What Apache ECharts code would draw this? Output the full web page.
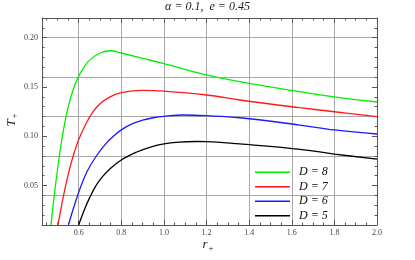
<!DOCTYPE html>
<html>
<head>
<meta charset="utf-8">
<script src="https://cdn.jsdelivr.net/npm/echarts@6/dist/echarts.min.js"></script>
<style>html,body{margin:0;padding:0;background:#fff}#c{width:415px;height:260px}</style>
</head>
<body>
<div id="c"></div>
<script>
// ---- data ----
var seriesNames = ['D = 8', 'D = 7', 'D = 6', 'D = 5'];
var xD8 = [0.470, 0.490, 0.510, 0.530, 0.550, 0.575, 0.600, 0.625, 0.650, 0.700, 0.750, 0.800, 0.900, 1.000, 1.200, 1.356, 1.600, 1.800, 2.000];
var yD8 = [0.010, 0.048, 0.081, 0.108, 0.129, 0.148, 0.161, 0.170, 0.177, 0.1845, 0.1868, 0.1845, 0.1791, 0.1737, 0.1622, 0.1554, 0.1465, 0.1400, 0.1348];
var xD7 = [0.503, 0.520, 0.540, 0.560, 0.580, 0.600, 0.630, 0.660, 0.700, 0.750, 0.800, 0.900, 1.000, 1.200, 1.356, 1.638, 1.800, 2.000];
var yD7 = [0.010, 0.030, 0.051, 0.069, 0.084, 0.0965, 0.111, 0.1225, 0.1330, 0.1403, 0.1442, 0.1466, 0.1459, 0.1419, 0.1368, 0.1290, 0.1249, 0.1199];
var xD6 = [0.552, 0.580, 0.610, 0.640, 0.680, 0.720, 0.760, 0.800, 0.850, 0.900, 0.950, 1.000, 1.090, 1.200, 1.356, 1.638, 1.800, 2.000];
var yD6 = [0.010, 0.030, 0.049, 0.0645, 0.079, 0.0905, 0.0995, 0.1065, 0.1125, 0.1163, 0.1188, 0.1203, 0.1216, 0.1209, 0.1188, 0.1114, 0.1064, 0.1023];
var xD5 = [0.600, 0.625, 0.650, 0.680, 0.710, 0.750, 0.800, 0.870, 0.930, 1.000, 1.070, 1.150, 1.200, 1.356, 1.638, 1.800, 2.000];
var yD5 = [0.010, 0.0245, 0.037, 0.0495, 0.0585, 0.0675, 0.0760, 0.0838, 0.0886, 0.0922, 0.0940, 0.0947, 0.0946, 0.0922, 0.0868, 0.0820, 0.0768];
var xTicks = [0.6, 0.8, 1.0, 1.2, 1.4, 1.6, 1.8, 2.0];
var xMinorTicks = [0.45, 0.5, 0.55, 0.65, 0.7, 0.75, 0.85, 0.9, 0.95, 1.05, 1.1, 1.15, 1.25, 1.3, 1.35, 1.45, 1.5, 1.55, 1.65, 1.7, 1.75, 1.85, 1.9, 1.95];
var yTicks = [0.05, 0.10, 0.15, 0.20];
var yMinorTicks = [0.01, 0.02, 0.03, 0.04, 0.06, 0.07, 0.08, 0.09, 0.11, 0.12, 0.13, 0.14, 0.16, 0.17, 0.18, 0.19, 0.21, 0.22];
var yGrid = [0.04, 0.08, 0.12, 0.16, 0.20];
var colors = ['#00ee00', '#ff1a1a', '#1a1aff', '#000000'];

function pairs(xs, ys) { return xs.map(function (x, i) { return [x, ys[i]]; }); }
var allData = [pairs(xD8, yD8), pairs(xD7, yD7), pairs(xD6, yD6), pairs(xD5, yD5)];

var XMIN = 0.428, XMAX = 2.0, YMIN = 0.01, YMAX = 0.22;
var frame = '#555';
var gridCol = '#a8a8a8';
var serif = '"Liberation Serif", "DejaVu Serif", serif';

function xAx(pos, ticks, len, withLabel, withLine) {
  return {
    type: 'value', min: XMIN, max: XMAX, position: pos,
    axisLine: { show: withLine, onZero: false, lineStyle: { color: frame, width: 1 } },
    axisTick: { show: true, inside: true, length: len, customValues: ticks, lineStyle: { color: frame } },
    axisLabel: { show: withLabel, customValues: ticks, margin: 4, fontFamily: serif, fontSize: 8, color: '#444',
      formatter: function (v) { return v.toFixed(1); } },
    splitLine: { show: false }
  };
}
function yAx(pos, ticks, len, withLabel, withLine) {
  return {
    type: 'value', min: YMIN, max: YMAX, position: pos,
    axisLine: { show: withLine, onZero: false, lineStyle: { color: frame, width: 1 } },
    axisTick: { show: true, inside: true, length: len, customValues: ticks, lineStyle: { color: frame } },
    axisLabel: { show: withLabel, customValues: ticks, margin: 4, fontFamily: serif, fontSize: 8, color: '#444',
      formatter: function (v) { return v.toFixed(2); } },
    splitLine: { show: false }
  };
}

var xAxes = [
  xAx('bottom', xTicks, 5, true, true),
  xAx('bottom', xMinorTicks, 2.5, false, false),
  xAx('top', xTicks, 5, false, true),
  xAx('top', xMinorTicks, 2.5, false, false)
];
xAxes[0].splitLine = { show: true, lineStyle: { color: gridCol, width: 1 } };
var yAxes = [
  yAx('left', yTicks, 5, true, true),
  yAx('left', yMinorTicks, 2.5, false, false),
  yAx('right', yTicks, 5, false, true),
  yAx('right', yMinorTicks, 2.5, false, false),
  yAx('left', yGrid, 0, false, false)
];
yAxes[4].axisTick.show = false;
yAxes[4].splitLine = { show: true, lineStyle: { color: gridCol, width: 1 } };

var series = allData.map(function (d, i) {
  return {
    name: seriesNames[i], type: 'line', data: d, smooth: 0.4, showSymbol: false, symbol: 'none',
    xAxisIndex: 0, yAxisIndex: 0, clip: true,
    lineStyle: { color: colors[i], width: 1.3 }, itemStyle: { color: colors[i] },
    z: 5
  };
});

var chart = echarts.init(document.getElementById('c'), null, { renderer: 'canvas' });
chart.setOption({
  animation: false,
  backgroundColor: '#fff',
  grid: { left: 42, right: 38, top: 18, bottom: 35, containLabel: false },
  xAxis: xAxes,
  yAxis: yAxes,
  legend: {
    data: seriesNames, orient: 'vertical', left: 255, top: 165, padding: 0, itemGap: 0,
    itemWidth: 35, itemHeight: 1.5, icon: 'rect',
    textStyle: { fontFamily: serif, fontStyle: 'italic', fontSize: 12, color: '#111', lineHeight: 14.5, padding: [0, 0, 0, 4] }
  },
  graphic: [
    { type: 'text', left: 'center', top: 1, style: { text: 'α = 0.1,  e = 0.45', font: 'italic 12px ' + serif, fill: '#222' } },
    { type: 'group', x: 12, y: 123, rotation: Math.PI / 2, children: [
      { type: 'text', x: 0, y: 0, style: { text: 'T', font: 'italic 13px ' + serif, fill: '#222', textAlign: 'center', textVerticalAlign: 'middle' } },
      { type: 'text', x: 7, y: 3, style: { text: '+', font: '9px ' + serif, fill: '#222', textAlign: 'center', textVerticalAlign: 'middle' } }
    ] },
    { type: 'text', x: 205, y: 245, style: { text: 'r', font: 'italic 13px ' + serif, fill: '#222', textAlign: 'center', textVerticalAlign: 'middle' } },
    { type: 'text', x: 211, y: 249, style: { text: '+', font: '9px ' + serif, fill: '#222', textAlign: 'center', textVerticalAlign: 'middle' } }
  ],
  series: series
});
</script>
</body>
</html>
